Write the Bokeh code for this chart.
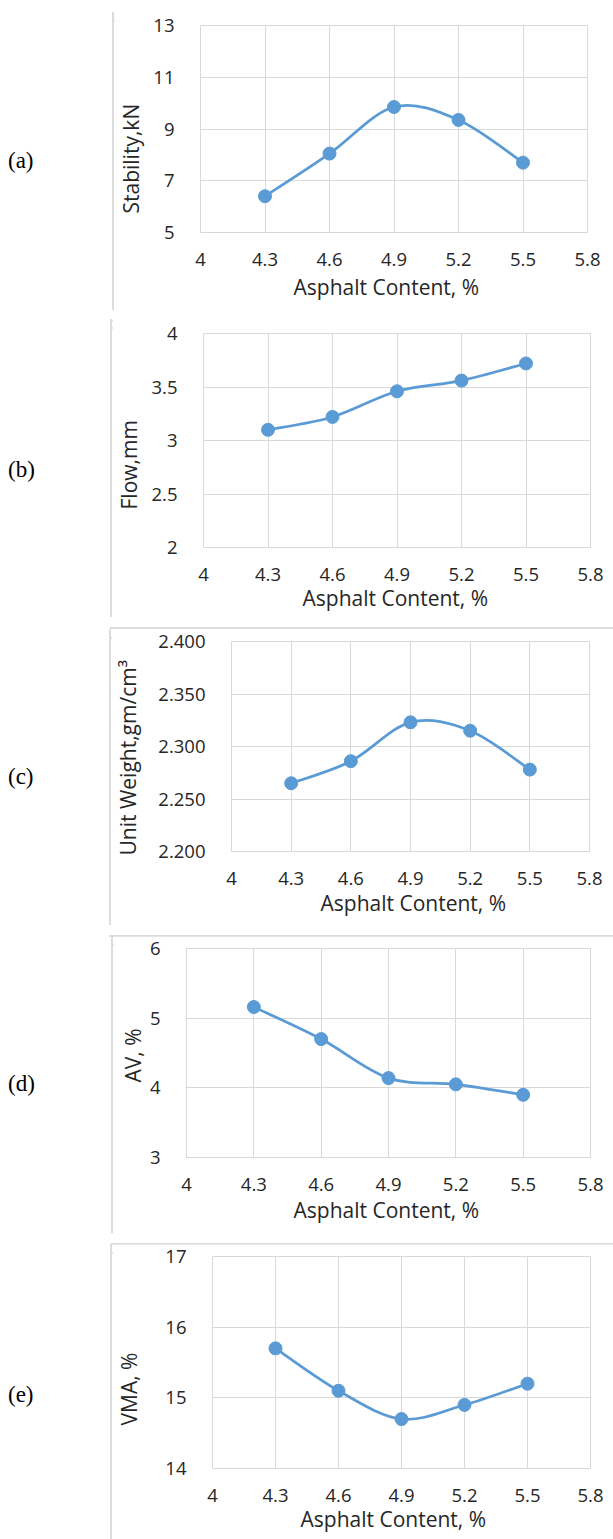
from bokeh.plotting import figure
from bokeh.models import (FixedTicker, CustomJSTickFormatter, PrintfTickFormatter,
                          Title, Div, Spacer, Range1d)
from bokeh.layouts import column, row
from bokeh.embed import file_html
from bokeh.resources import INLINE

# ---------------- data ----------------
asphalt = [4.3, 4.6, 4.9, 5.2, 5.5]
x_ticks = [4, 4.3, 4.6, 4.9, 5.2, 5.5, 5.8]
x_title = "Asphalt Content, %"

stability = [6.4, 8.05, 9.85, 9.35, 7.7]
flow = [3.1, 3.22, 3.46, 3.56, 3.72]
unit_weight = [2.265, 2.286, 2.323, 2.315, 2.278]
air_voids = [5.16, 4.70, 4.14, 4.05, 3.90]
vma = [15.7, 15.1, 14.7, 14.9, 15.2]

panel_labels = ["(a)", "(b)", "(c)", "(d)", "(e)"]
y_titles = ["Stability,kN", "Flow,mm", "Unit Weight,gm/cm\u00b3", "AV, %", "VMA, %"]
y_ticks_a = [5, 7, 9, 11, 13]
y_ticks_b = [2, 2.5, 3, 3.5, 4]
y_ticks_c = [2.2, 2.25, 2.3, 2.35, 2.4]
y_ticks_d = [3, 4, 5, 6]
y_ticks_e = [14, 15, 16, 17]

series = [stability, flow, unit_weight, air_voids, vma]
y_ticks = [y_ticks_a, y_ticks_b, y_ticks_c, y_ticks_d, y_ticks_e]

# ---------------- layout / style ----------------
W = 613
BLUE = "#5B9BD5"
GRID = "#d9d9d9"
BOX = "#dcdcdc"
TXT = "#262626"
FONT = "Open Sans"
LW = 2  # box line thickness

# box left/top/height, frame left/right/top/bottom (page px)
boxes = [
    dict(left=112, top=10, h=302, fl=195, fr=587, ft=25, fb=232),
    dict(left=110, top=317, h=302, fl=197, fr=590, ft=333, fb=547),
    dict(left=109, top=627, h=300, fl=226, fr=589, ft=641, fb=851),
    dict(left=111, top=934, h=301, fl=186, fr=590, ft=948, fb=1157),
    dict(left=110, top=1242, h=297, fl=208, fr=590, ft=1256, fb=1468),
]
has_bottom = [True, True, True, True, False]
ytitle_offset = [19, 38, -4, 75, 43]
ytitle_gap = [2.6, 2.6, 10.6, None, 16.6]
xtitle_offset = [93, 99, 89, 107, 88]
xtitle_standoff = [9, 0, 3, 5, 0]
label_pad_top = [139, 141, 138, 138, 141]
fmt_int = CustomJSTickFormatter(code="return String(Math.round(tick*1000)/1000)")


def smooth(xs, ys):
    n = len(xs)
    d = dict(x0=[], y0=[], x1=[], y1=[], cx0=[], cy0=[], cx1=[], cy1=[])
    for i in range(n - 1):
        pm = max(i - 1, 0)
        pp = min(i + 2, n - 1)
        d["x0"].append(xs[i]); d["y0"].append(ys[i])
        d["x1"].append(xs[i + 1]); d["y1"].append(ys[i + 1])
        d["cx0"].append(xs[i] + (xs[i + 1] - xs[pm]) / 6.0)
        d["cy0"].append(ys[i] + (ys[i + 1] - ys[pm]) / 6.0)
        d["cx1"].append(xs[i + 1] - (xs[pp] - xs[i]) / 6.0)
        d["cy1"].append(ys[i + 1] - (ys[pp] - ys[i]) / 6.0)
    return d


def line_piece(w, h):
    html = '<div style="width:%dpx;height:%dpx;background:%s;margin:0;padding:0"></div>' % (w, h, BOX)
    return Div(text=html, width=w, height=h, margin=0)


rows = []
prev_bottom = 0
for k in range(5):
    b = boxes[k]
    bw = W - b["left"]               # box width (runs off the right edge)
    fw = bw - LW                      # figure width (after left line)
    fh = b["h"] - LW - (LW if has_bottom[k] else 0)
    f_left = b["left"] + LW
    f_top = b["top"] + LW
    f_bottom = f_top + fh
    yt = y_ticks[k]
    p = figure(width=fw, height=fh, output_backend="svg", toolbar_location=None,
               x_range=Range1d(4, 5.8), y_range=Range1d(yt[0], yt[-1]),
               min_border_left=b["fl"] - f_left, min_border_right=W - b["fr"],
               min_border_top=b["ft"] - f_top,
               min_border_bottom=f_bottom - b["fb"],
               border_fill_color="white", background_fill_color="white",
               outline_line_color=GRID, outline_line_width=1, margin=0)

    p.xaxis.ticker = FixedTicker(ticks=x_ticks)
    p.xaxis.formatter = fmt_int
    p.yaxis.ticker = FixedTicker(ticks=yt)
    p.yaxis.formatter = PrintfTickFormatter(format="%.3f") if k == 2 else fmt_int
    for ax in (p.xaxis, p.yaxis):
        ax.axis_line_color = None
        ax.major_tick_line_color = None
        ax.minor_tick_line_color = None
        ax.major_label_text_font = FONT
        ax.major_label_text_font_size = "18.5px"
        ax.major_label_text_color = TXT
    p.xaxis.major_label_standoff = 14
    p.yaxis.major_label_standoff = 20
    p.xgrid.grid_line_color = GRID
    p.ygrid.grid_line_color = GRID

    # y title (spacer title sets the gap to the tick labels)
    if ytitle_gap[k] is not None:
        p.add_layout(Title(text=" ", text_font_size="1px", standoff=ytitle_gap[k]), "left")
    p.add_layout(Title(text=y_titles[k], align="left", offset=ytitle_offset[k],
                       vertical_align="bottom", standoff=0, text_font=FONT,
                       text_font_size="21px", text_font_style="normal",
                       text_color=TXT), "left")
    # x title
    p.add_layout(Title(text=x_title, align="left", offset=xtitle_offset[k],
                       vertical_align="top", standoff=xtitle_standoff[k], text_font=FONT,
                       text_font_size="21px", text_font_style="normal",
                       text_color=TXT), "below")

    sd = smooth(asphalt, series[k])
    p.bezier(x0=sd["x0"], y0=sd["y0"], x1=sd["x1"], y1=sd["y1"],
             cx0=sd["cx0"], cy0=sd["cy0"], cx1=sd["cx1"], cy1=sd["cy1"],
             line_color=BLUE, line_width=2.75)
    p.scatter(asphalt, series[k], size=13, fill_color=BLUE, line_color=BLUE)

    # box: top line, (left line + figure), optional bottom line
    parts = [line_piece(bw, LW), row(line_piece(LW, fh), p, spacing=0)]
    if has_bottom[k]:
        parts.append(line_piece(bw, LW))
    boxed = column(*parts, spacing=0)

    lab = Div(text=('<div style="font-family:\'Liberation Serif\',serif;font-size:23px;'
                    'line-height:1;color:#000;padding-left:8px;padding-top:%dpx">%s</div>'
                    % (label_pad_top[k], panel_labels[k])),
              width=b["left"], height=b["h"], margin=0)
    gap = b["top"] - prev_bottom
    if gap > 0:
        rows.append(Spacer(height=gap, width=W, margin=0))
    rows.append(row(lab, boxed, spacing=0))
    prev_bottom = b["top"] + b["h"]

layout = column(*rows, spacing=0)
open("out.html", "w").write(file_html(layout, INLINE))
